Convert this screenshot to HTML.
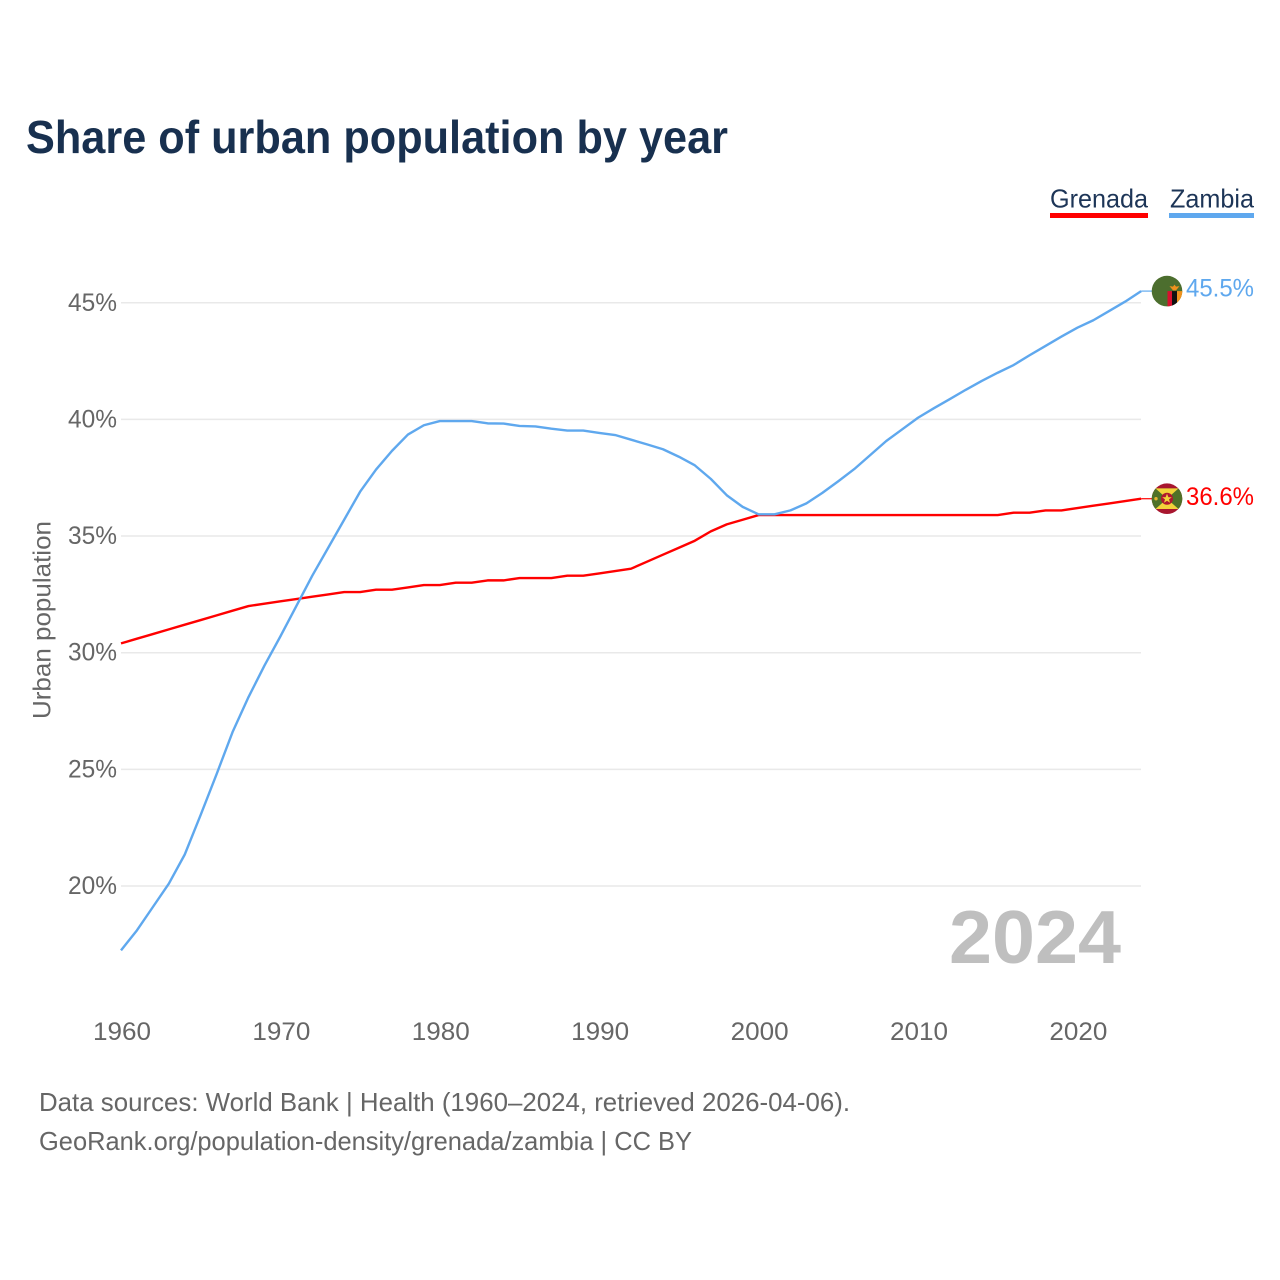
<!DOCTYPE html>
<html lang="en">
<head>
<meta charset="utf-8">
<title>Share of urban population by year</title>
<style>
html,body{margin:0;padding:0;background:#fff;}
svg{display:block;font-family:"Liberation Sans",sans-serif;}
</style>
</head>
<body>
<svg id="chart" width="1280" height="1280" viewBox="0 0 1280 1280" xmlns="http://www.w3.org/2000/svg">
  <rect width="1280" height="1280" fill="#fff"/>
  <text x="26" y="153" font-size="46" font-weight="700" fill="#18304f" textLength="702" lengthAdjust="spacingAndGlyphs">Share of urban population by year</text>

  <g>
    <g>
      <text x="1050" y="207.5" font-size="26" fill="#1d3557" textLength="98" lengthAdjust="spacingAndGlyphs">Grenada</text>
      <rect x="1050" y="213" width="98" height="5" fill="#ff0000"/>
    </g>
    <g>
      <text x="1170" y="207.5" font-size="26" fill="#1d3557" textLength="84" lengthAdjust="spacingAndGlyphs">Zambia</text>
      <rect x="1169" y="213" width="85" height="5" fill="#5fa8ee"/>
    </g>
  </g>

  <g id="grid"></g>
  <g id="y-axis"></g>
  <g id="x-axis"></g>
  <text transform="translate(50.5,719) rotate(-90)" font-size="25" fill="#666" textLength="198" lengthAdjust="spacingAndGlyphs">Urban population</text>

  <text x="949" y="963" font-size="75" font-weight="700" fill="#bfbfbf" textLength="172" lengthAdjust="spacingAndGlyphs">2024</text>

  <g id="series"></g>

  <defs>
    <clipPath id="flag-clip"><circle cx="0" cy="0" r="15.3"/></clipPath>
  </defs>

  <g id="flag-zambia" clip-path="url(#flag-clip)">
    <rect x="-16" y="-16" width="32" height="32" fill="#4c6e2e"/>
    <rect x="0.5" y="0" width="4.5" height="16" fill="#d9102f"/>
    <rect x="5" y="0" width="5" height="16" fill="#111"/>
    <rect x="10" y="0" width="6" height="16" fill="#f0921e"/>
    <path d="M2.5-5 L6-4.5 L7.5-6.5 L9-4.5 L12.5-5 L10-2 L9-0.7 L6-0.7 L5-2Z" fill="#f0921e"/>
  </g>

  <g id="flag-grenada" clip-path="url(#flag-clip)">
    <rect x="-16" y="-16" width="32" height="32" fill="#a8162f"/>
    <path d="M-16-10.3 L16-10.3 L16 10.3 L-16 10.3Z" fill="#4f7128"/>
    <path d="M-11.5-10.3 L11.5-10.3 L0 0Z" fill="#f3d33a"/>
    <path d="M-11.5 10.3 L11.5 10.3 L0 0Z" fill="#f3d33a"/>
    <circle cx="0" cy="0" r="6" fill="#b0182f"/>
    <path d="M0-5 L1.4-1.5 L4.8-1.5 L2 0.6 L3 4 L0 2 L-3 4 L-2 0.6 L-4.8-1.5 L-1.4-1.5Z" fill="#f3d33a"/>
    <circle cx="-11" cy="0" r="1.7" fill="#e4b52f"/>
  </g>

  <text id="value-zambia" x="1186" font-size="25" fill="#5fa8ee" textLength="68" lengthAdjust="spacingAndGlyphs"></text>
  <text id="value-grenada" x="1186" font-size="25" fill="#ff0000" textLength="68" lengthAdjust="spacingAndGlyphs"></text>

  <text x="39" y="1111" font-size="26" fill="#666" textLength="811" lengthAdjust="spacingAndGlyphs">Data sources: World Bank | Health (1960–2024, retrieved 2026-04-06).</text>
  <text x="39" y="1150" font-size="26" fill="#666" textLength="653" lengthAdjust="spacingAndGlyphs">GeoRank.org/population-density/grenada/zambia | CC BY</text>
</svg>

<script>
const startYear = 1960;
const zambiaValues = [
  17.24, 18.1, 19.1, 20.1, 21.35, 23.05, 24.8, 26.6, 28.1, 29.45,
  30.7, 32.0, 33.3, 34.5, 35.7, 36.9, 37.85, 38.65, 39.35, 39.75,
  39.93, 39.93, 39.93, 39.83, 39.82, 39.72, 39.7, 39.6, 39.52, 39.52,
  39.42, 39.33, 39.13, 38.93, 38.72, 38.4, 38.03, 37.45, 36.75, 36.25,
  35.93, 35.93, 36.1, 36.4, 36.85, 37.35, 37.87, 38.47, 39.07, 39.57,
  40.07, 40.48, 40.87, 41.27, 41.65, 42.0, 42.33, 42.75, 43.15, 43.55,
  43.93, 44.25, 44.65, 45.05, 45.5
];
const grenadaValues = [
  30.4, 30.6, 30.8, 31.0, 31.2, 31.4, 31.6, 31.8, 32.0, 32.1,
  32.2, 32.3, 32.4, 32.5, 32.6, 32.6, 32.7, 32.7, 32.8, 32.9,
  32.9, 33.0, 33.0, 33.1, 33.1, 33.2, 33.2, 33.2, 33.3, 33.3,
  33.4, 33.5, 33.6, 33.9, 34.2, 34.5, 34.8, 35.2, 35.5, 35.7,
  35.9, 35.9, 35.9, 35.9, 35.9, 35.9, 35.9, 35.9, 35.9, 35.9,
  35.9, 35.9, 35.9, 35.9, 35.9, 35.9, 36.0, 36.0, 36.1, 36.1,
  36.2, 36.3, 36.4, 36.5, 36.6
];
const yTicks = [20, 25, 30, 35, 40, 45];
const xTicks = [1960, 1970, 1980, 1990, 2000, 2010, 2020];

const NS = 'http://www.w3.org/2000/svg';
function sx(year) { return 121 + (year - 1960) * 15.94; }
function sy(value) { return 886 - (value - 20) * 23.33; }
function make(tag, parent, attrs) {
  const el = document.createElementNS(NS, tag);
  for (const k in attrs) el.setAttribute(k, attrs[k]);
  parent.appendChild(el);
  return el;
}

const grid = document.getElementById('grid');
const yAxis = document.getElementById('y-axis');
const xAxis = document.getElementById('x-axis');
const seriesGroup = document.getElementById('series');

yTicks.forEach(function (t) {
  const line = make('line', grid, { x1: 121, x2: 1141, y1: sy(t), y2: sy(t), stroke: '#e9e9e9', 'stroke-width': 1.5 });
  
  
  const label = make('text', yAxis, { x: 68, y: sy(t) + 8, 'font-size': 25, fill: '#666', textLength: 49, lengthAdjust: 'spacingAndGlyphs' });
  label.textContent = t + '%';
  
  
});

xTicks.forEach(function (t) {
  const label = make('text', xAxis, { x: sx(t) - 28, y: 1040, 'font-size': 25, fill: '#666', textLength: 58, lengthAdjust: 'spacingAndGlyphs' });
  label.textContent = t;
  
  
});

function drawSeries(values, color, name, labelOffset) {
  const pts = values.map(function (v, i) { return sx(startYear + i).toFixed(2) + ',' + sy(v).toFixed(2); });
  const line = make('polyline', seriesGroup, { points: pts.join(' '), fill: 'none', stroke: color, 'stroke-width': 2.4, 'stroke-linejoin': 'round' });
  
  
  const last = values[values.length - 1];
  const lastX = sx(startYear + values.length - 1);
  const tail = make('line', seriesGroup, { x1: lastX, x2: 1152, y1: sy(last), y2: sy(last), stroke: color, 'stroke-width': 1.2 });
  
  
  document.getElementById('flag-' + name).setAttribute('transform', 'translate(1167,' + sy(last).toFixed(2) + ')');
  const valueLabel = document.getElementById('value-' + name);
  valueLabel.setAttribute('y', (sy(last) + labelOffset).toFixed(2));
  valueLabel.textContent = last.toFixed(1) + '%';
}

drawSeries(grenadaValues, '#ff0000', 'grenada', 6.5);
drawSeries(zambiaValues, '#5fa8ee', 'zambia', 5.5);
</script>
</body>
</html>
